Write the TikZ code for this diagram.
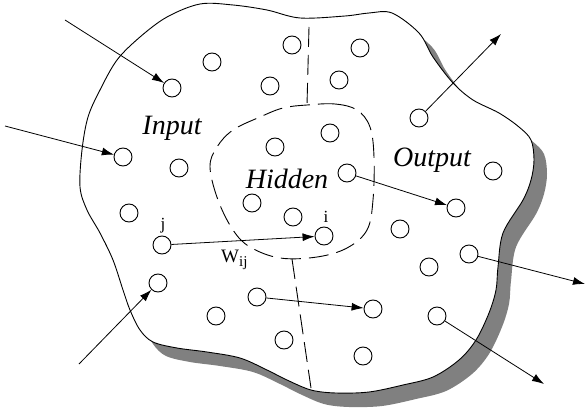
\documentclass[tikz,border=0pt]{standalone}
\usepackage{fontspec}
\setmainfont{Liberation Serif}
\usetikzlibrary{arrows.meta}
\tikzset{
  neuron/.style={circle,draw,line width=0.9pt,minimum size=18pt,inner sep=0pt,fill=white},
  conn/.style={line width=0.8pt,-{Latex[length=12pt,width=8pt]}},
  region/.style={line width=0.9pt,dash pattern=on 20pt off 8pt},
  biglabel/.style={font=\fontsize{28}{28}\selectfont\itshape,anchor=base,inner sep=0pt},
  smalllabel/.style={font=\fontsize{17}{17}\selectfont,anchor=base,inner sep=0pt}
}
\begin{document}
\begin{tikzpicture}[x=1pt,y=-1pt]
\useasboundingbox (0,0) rectangle (586,409);
\def\blob{(200,4) (233,5) (267,10) (300,18) (345,16) (369,13) (392,13) (419,33) (433,57) (453,83) (473,100) (499,113) (519,127) (531,140) (534,160) (531,180) (523,200) (503,233) (498,267) (496,290) (489,313) (476,340) (459,360) (433,377) (403,385) (369,392) (336,393) (311,390) (287,380) (267,370) (240,358) (207,352) (177,348) (153,342) (140,330) (130,310) (123,290) (113,260) (100,233) (87,210) (80,187) (82,150) (88,117) (100,90) (117,60) (140,37) (167,17)}
% shadow
\fill[black!50,shift={(13pt,-14pt)}] plot[smooth cycle,tension=0.55] coordinates {\blob};
% blob
\filldraw[fill=white,line width=0.9pt] plot[smooth cycle,tension=0.55] coordinates {\blob};
% hidden region
\draw[region] plot[smooth cycle,tension=0.6] coordinates {(307,105) (335,104) (357,110) (370,127) (374,157) (373,200) (367,230) (347,248) (317,257) (280,258) (250,247) (233,230) (218,200) (210,167) (217,147) (233,130) (260,117) (283,108)};
\coordinate (sepTa) at (309,27);
\coordinate (sepTb) at (307,105);
\coordinate (sepBa) at (292,259);
\coordinate (sepBb) at (311,388);
\draw[region] (sepTa) -- (sepTb);
\draw[region] (sepBa) -- (sepBb);
% neurons
\node[neuron] (c1) at (172,88) {};
\node[neuron] (c2) at (212,62) {};
\node[neuron] (c3) at (292,45) {};
\node[neuron] (c4) at (360,48) {};
\node[neuron] (c5) at (270,86) {};
\node[neuron] (c6) at (339,80) {};
\node[neuron] (c7) at (123,157) {};
\node[neuron] (c8) at (179,168) {};
\node[neuron] (c9) at (275,147) {};
\node[neuron] (c10) at (330,133) {};
\node[neuron] (c11) at (129,213) {};
\node[neuron] (c12) at (252,203) {};
\node[neuron] (c13) at (293,217) {};
\node[neuron] (c14) at (347,173) {};
\node[neuron] (c15) at (162,245) {};
\node[neuron] (c16) at (324,236) {};
\node[neuron] (c17) at (158,283) {};
\node[neuron] (c18) at (257,297) {};
\node[neuron] (c19) at (216,316) {};
\node[neuron] (c20) at (373,309) {};
\node[neuron] (c21) at (284,340) {};
\node[neuron] (c22) at (363,356) {};
\node[neuron] (c23) at (419,118) {};
\node[neuron] (c24) at (456,208) {};
\node[neuron] (c25) at (493,171) {};
\node[neuron] (c26) at (400,229) {};
\node[neuron] (c27) at (429,267) {};
\node[neuron] (c28) at (469,254) {};
\node[neuron] (c29) at (437,316) {};
% free ends
\coordinate (in1) at (65,20);
\coordinate (in2) at (5,126);
\coordinate (in3) at (79,364);
\coordinate (out1) at (501,34);
\coordinate (out2) at (585,284);
\coordinate (out3) at (544,384);
% connections
\draw[conn] (in1) -- (c1);
\draw[conn] (in2) -- (c7);
\draw[conn] (in3) -- (c17);
\draw[conn] (c15) -- (c16);
\draw[conn] (c14) -- (c24);
\draw[conn] (c18) -- (c20);
\draw[conn] (c23) -- (out1);
\draw[conn] (c28) -- (out2);
\draw[conn] (c29) -- (out3);
% labels
\node[biglabel] (linput) at (172,135) {Input};
\node[biglabel] (lhidden) at (287,188) {Hidden};
\node[biglabel] (loutput) at (432,166) {Output};
\node[smalllabel] (lj) at (163,229) {j};
\node[smalllabel] (li) at (326,222) {i};
\node[font=\fontsize{19}{19}\selectfont,anchor=base west,inner sep=0pt] (lw) at (221,262) {W\raisebox{-4pt}{\fontsize{15}{15}\selectfont ij}};
\end{tikzpicture}
\end{document}
